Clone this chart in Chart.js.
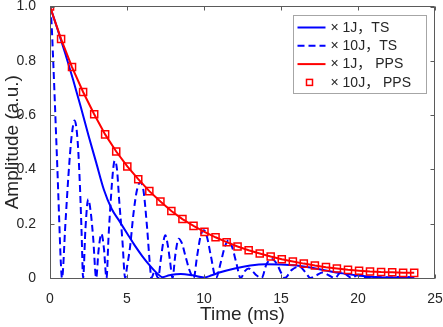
<!DOCTYPE html>
<html>
<head>
<meta charset="utf-8">
<script src="https://cdn.jsdelivr.net/npm/chart.js@4.4.1/dist/chart.umd.min.js"></script>
<style>
html, body { margin: 0; padding: 0; background: #fff; }
</style>
</head>
<body>
<canvas id="myChart" width="443" height="327"></canvas>
<script>
// time axis of the PPS curves (ms), one value per square marker
var ppsTime = [0, 0.72, 1.43, 2.15, 2.87, 3.58, 4.3, 5.02, 5.73, 6.45, 7.17, 7.88, 8.6, 9.32, 10.03, 10.75, 11.47,
    12.18, 12.9, 13.62, 14.33, 15.05, 15.77, 16.48, 17.2, 17.92, 18.63, 19.35, 20.07, 20.78, 21.5, 22.22, 22.93, 23.65];
var pps1J = [1.0, 0.880, 0.777, 0.685, 0.603, 0.529, 0.466, 0.411, 0.364, 0.320, 0.282, 0.247, 0.217, 0.192, 0.170,
    0.150, 0.132, 0.116, 0.102, 0.090, 0.079, 0.069, 0.061, 0.053, 0.046, 0.040, 0.035, 0.030, 0.027, 0.024, 0.022, 0.021, 0.019, 0.019];
var pps10J = [1.0, 0.880, 0.777, 0.685, 0.603, 0.529, 0.466, 0.411, 0.364, 0.320, 0.282, 0.247, 0.217, 0.192, 0.170,
    0.150, 0.132, 0.116, 0.102, 0.090, 0.079, 0.069, 0.061, 0.053, 0.046, 0.040, 0.035, 0.030, 0.027, 0.024, 0.022, 0.021, 0.019, 0.019];

// 1J TS (solid blue)
var ts1Time = [0, 0.5, 1, 1.5, 2, 2.5, 3, 3.5, 4, 4.5, 5, 5.5, 6, 6.5, 7, 7.3, 7.75, 8.5, 9.25, 10, 10.5, 11, 12, 13,
    14, 15, 16, 17, 18, 19, 20, 21, 22, 23, 23.65];
var ts1J = [1.0, 0.915, 0.825, 0.73, 0.63, 0.525, 0.425, 0.325, 0.255, 0.21, 0.165, 0.12, 0.08, 0.045, 0.015, 0.003,
    0.01, 0.015, 0.01, 0.002, 0.01, 0.02, 0.035, 0.046, 0.051, 0.05, 0.046, 0.038, 0.027, 0.017, 0.009, 0.004, 0.002, 0.002, 0.002];

// 10J TS (dashed blue)
var ts10Time = [0, 0.1, 0.2, 0.3, 0.4, 0.5, 0.6, 0.7, 0.78,
    1.0, 1.2, 1.4, 1.6, 1.8, 1.95, 2.05, 2.15,
    2.3, 2.48, 2.65, 2.8, 3.0,
    3.15, 3.34, 3.5, 3.67,
    3.8, 3.95, 4.1, 4.2, 4.35, 4.5, 4.7, 4.88,
    5.0, 5.2, 5.42, 5.64, 5.86, 6.07, 6.3, 6.5, 6.58,
    6.8, 7.02,
    7.2, 7.35, 7.49, 7.65, 7.8, 7.95,
    8.15, 8.35, 8.55, 8.8, 9.05, 9.33,
    9.55, 9.8, 10.0, 10.2, 10.45, 10.78,
    11.1, 11.35, 11.6, 11.85, 12.1, 12.38,
    12.65, 12.9, 13.15, 13.4, 13.75,
    14.05, 14.4, 14.75, 15.0, 15.25,
    15.7, 16.2, 16.6, 16.9,
    17.3, 17.7, 18.1, 18.5,
    18.9, 19.3, 19.6,
    20.0, 20.4,
    21.2, 22.0, 22.8, 23.65];
var ts10J = [1.0, 0.94, 0.81, 0.67, 0.52, 0.37, 0.21, 0.06, 0,
    0.2, 0.38, 0.52, 0.58, 0.5, 0.33, 0.17, 0,
    0.18, 0.29, 0.24, 0.15, 0,
    0.1, 0.163, 0.11, 0,
    0.15, 0.29, 0.4, 0.432, 0.4, 0.28, 0.14, 0,
    0.04, 0.115, 0.237, 0.322, 0.353, 0.322, 0.188, 0.04, 0,
    0.025, 0,
    0.07, 0.13, 0.157, 0.12, 0.06, 0,
    0.09, 0.145, 0.13, 0.08, 0.03, 0,
    0.08, 0.16, 0.176, 0.15, 0.08, 0,
    0.06, 0.115, 0.139, 0.11, 0.055, 0,
    0.025, 0.035, 0.025, 0.01, 0,
    0.05, 0.07, 0.05, 0.02, 0,
    0.03, 0.042, 0.02, 0,
    0.01, 0.02, 0.01, 0,
    0.022, 0.01, 0,
    0.012, 0,
    0.004, 0.002, 0.004, 0.002];

var xTicks = [0, 5, 10, 15, 20, 25];
var yTicks = [0, 0.2, 0.4, 0.6, 0.8, 1];

var labels = ['× 1J，TS', '× 10J，TS', '× 1J， PPS', '× 10J， PPS'];

function pts(xs, ys) {
    var out = [];
    for (var i = 0; i < xs.length; i++) out.push({ x: xs[i], y: ys[i] });
    return out;
}

var fontFam = "'Liberation Sans', Arial, 'Noto Sans CJK SC', sans-serif";
var axisColor = '#5a5a5a';
var textColor = '#262626';

// box round the axes with inward ticks, like a matlab figure
var boxPlugin = {
    id: 'boxPlugin',
    afterDatasetsDraw: function (chart) {
        var ctx = chart.ctx, a = chart.chartArea;
        var xs = chart.scales.x, ys = chart.scales.y;
        var l = Math.floor(a.left) + 0.5, r = Math.ceil(a.right) - 0.5;
        var t = Math.floor(a.top) + 0.5, b = Math.floor(a.bottom) + 0.5;
        ctx.save();
        ctx.strokeStyle = axisColor;
        ctx.lineWidth = 1;
        ctx.beginPath();
        ctx.rect(l, t, r - l, b - t);
        xTicks.forEach(function (v) {
            var p = Math.round(xs.getPixelForValue(v)) + 0.5;
            ctx.moveTo(p, b); ctx.lineTo(p, b - 4);
            ctx.moveTo(p, t); ctx.lineTo(p, t + 4);
        });
        yTicks.forEach(function (v) {
            var p = Math.round(ys.getPixelForValue(v)) + 0.5;
            ctx.moveTo(l, p); ctx.lineTo(l + 4, p);
            ctx.moveTo(r, p); ctx.lineTo(r - 4, p);
        });
        ctx.stroke();
        ctx.restore();
    },
    afterDraw: function (chart) {
        var ctx = chart.ctx, a = chart.chartArea;
        var ds = chart.data.datasets;
        var x1 = Math.round(a.right) - 8.5, y0 = Math.round(a.top) + 8.5;
        var x0 = x1 - 133, y1 = y0 + 78;
        ctx.save();
        ctx.fillStyle = '#fff';
        ctx.fillRect(x0, y0, x1 - x0, y1 - y0);
        ctx.strokeStyle = '#a6a6a6';
        ctx.lineWidth = 1;
        ctx.strokeRect(x0, y0, x1 - x0, y1 - y0);
        ctx.font = '14px ' + fontFam;
        ctx.textBaseline = 'middle';
        ctx.textAlign = 'left';
        for (var i = 0; i < ds.length; i++) {
            var y = y0 + 12 + i * 18.3;
            var d = ds[i];
            ctx.strokeStyle = d.borderColor;
            if (d.showLine !== false) {
                ctx.lineWidth = d.borderWidth;
                ctx.setLineDash(d.borderDash || []);
                ctx.beginPath();
                ctx.moveTo(x0 + 4, y);
                ctx.lineTo(x0 + 32, y);
                ctx.stroke();
                ctx.setLineDash([]);
            } else {
                ctx.strokeStyle = d.pointBorderColor;
                ctx.lineWidth = 1.5;
                ctx.strokeRect(x0 + 13, y - 3, 6, 6);
            }
            ctx.fillStyle = textColor;
            ctx.fillText(d.label, x0 + 37, y + 0.5);
        }
        ctx.restore();
    }
};

const ctx = document.getElementById('myChart');

new Chart(ctx, {
    type: 'line',
    data: {
        datasets: [{
            label: labels[0],
            data: pts(ts1Time, ts1J),
            borderColor: '#0000ff',
            borderWidth: 2,
            pointRadius: 0,
            cubicInterpolationMode: 'monotone',
            order: 4
        },
        {
            label: labels[1],
            data: pts(ts10Time, ts10J),
            borderColor: '#0000ff',
            borderWidth: 2,
            borderDash: [7, 4],
            pointRadius: 0,
            cubicInterpolationMode: 'monotone',
            order: 3
        },
        {
            label: labels[2],
            data: pts(ppsTime, pps1J),
            borderColor: '#ff0000',
            borderWidth: 2,
            pointRadius: 0,
            order: 2
        },
        {
            label: labels[3],
            data: pts(ppsTime, pps10J),
            borderColor: '#ff0000',
            showLine: false,
            pointStyle: 'rect',
            pointRadius: 5,
            pointBorderWidth: 1.5,
            pointBorderColor: '#ff0000',
            pointBackgroundColor: 'rgba(255,255,255,0)',
            order: 1
        }]
    },
    options: {
        responsive: false,
        animation: false,
        devicePixelRatio: 1,
        layout: { padding: { top: 5, right: 8, left: 0, bottom: 0 } },
        plugins: { legend: { display: false }, tooltip: { enabled: false } },
        scales: {
            x: {
                type: 'linear',
                min: 0,
                max: 25,
                grid: { display: false },
                border: { display: false },
                afterBuildTicks: function (s) { s.ticks = xTicks.map(function (v) { return { value: v }; }); },
                afterFit: function (s) { s.height = 49; s.paddingLeft = 0; s.paddingRight = 0; },
                ticks: { padding: 5, color: textColor, font: { size: 14, family: fontFam }, maxRotation: 0 },
                title: { display: true, text: 'Time (ms)', color: textColor, font: { size: 19, family: fontFam }, padding: { top: 0, bottom: 1 } }
            },
            y: {
                min: 0,
                max: 1,
                grid: { display: false },
                border: { display: false },
                afterBuildTicks: function (s) { s.ticks = yTicks.map(function (v) { return { value: v }; }); },
                afterFit: function (s) { s.width = 50; s.paddingTop = 0; s.paddingBottom = 0; },
                ticks: { padding: 6, color: textColor, font: { size: 14, family: fontFam } },
                title: { display: true, text: 'Amplitude (a.u.)', color: textColor, font: { size: 19, family: fontFam }, padding: { top: 1, bottom: 0 } }
            }
        }
    },
    plugins: [boxPlugin]
});
</script>
</body>
</html>
